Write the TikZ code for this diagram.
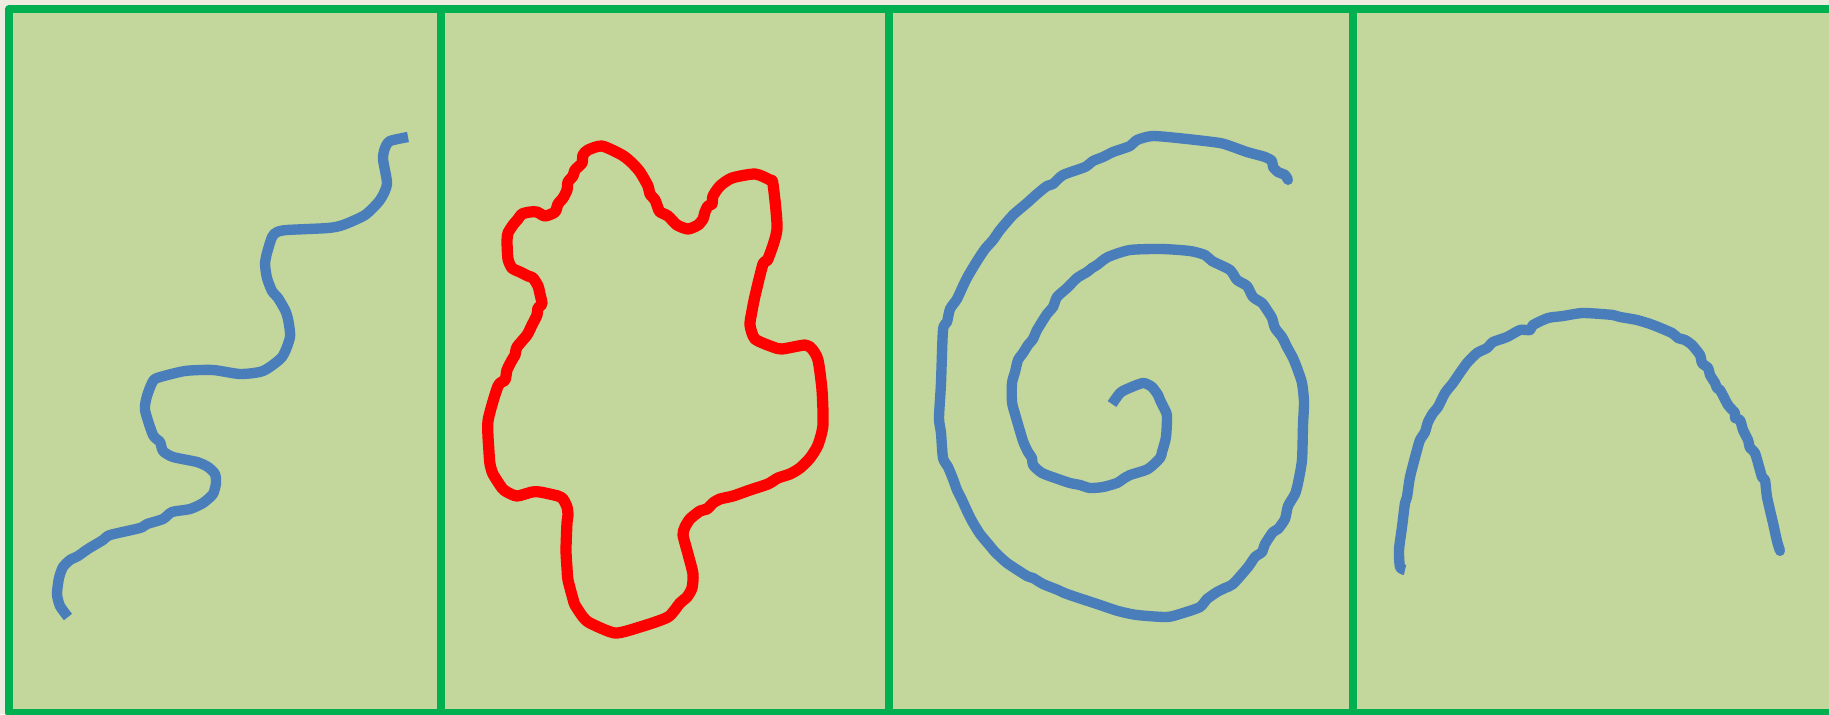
\documentclass[tikz,border=0pt]{standalone}
\usepackage{tikz}
\definecolor{paper}{HTML}{EEECE1}
\definecolor{olive_sk}{HTML}{C3D69B}
\definecolor{frame_green}{HTML}{00B050}
\definecolor{ink_blue}{HTML}{4A7EBB}
\definecolor{ink_red}{HTML}{FF0000}

\begin{document}
\begin{tikzpicture}[x=0.02cm,y=-0.02cm,line join=round]

    \useasboundingbox (0,0) rectangle (1829,714);
    \clip (0,0) rectangle (1829,714);
    \fill[paper] (0,0) rectangle (1829,714);

    \draw[line width=4.5pt,frame_green,fill=olive_sk] (9,9) rectangle (1840,713);
    \draw[line width=4.5pt,frame_green] (441,9) -- (441,713);
    \draw[line width=4.5pt,frame_green] (889,9) -- (889,713);
    \draw[line width=4.5pt,frame_green] (1353,9) -- (1353,713);

    \draw[line width=5.9pt,ink_blue] plot[smooth,tension=0.4] coordinates {
        (68,617) (60,606) (57,594) (59,578) (63,567) (70,560) (78,556)
        (88,549) (103,540) (110,535) (140,528) (147,524) (163,519)
        (172,512) (190,509) (203,503) (213,494) (216,483) (215,474)
        (208,467) (197,462) (173,457) (163,451) (160,442) (153,435)
        (145,410) (147,396) (152,383) (157,378) (185,371) (213,370)
        (240,374) (263,371) (282,357) (290,337) (288,319) (285,310)
        (278,298) (272,291) (267,278) (265,264) (267,253) (272,237)
        (277,232) (287,230) (328,228) (343,225) (365,215) (380,200)
        (387,184) (383,159) (385,148) (390,141) (408,137)};

    \draw[line width=6.4pt,ink_red] plot[smooth cycle,tension=0.4] coordinates {
        (602,146) (622,155) (632,163) (640,172) (648,186) (650,194)
        (655,200) (658,208) (660,212) (668,216) (677,225) (688,229)
        (698,225) (703,219) (705,212) (708,206) (712,204) (713,196)
        (720,186) (732,178) (755,174) (770,180) (773,184) (777,229)
        (768,259) (763,264) (755,296) (752,311) (750,325) (755,339)
        (773,347) (782,349) (805,345) (812,349) (818,360) (822,390)
        (823,425) (818,445) (810,458) (800,468) (790,474) (778,478)
        (768,484) (750,490) (733,496) (720,499) (713,503) (707,509)
        (700,511) (690,519) (685,527) (683,535) (688,554) (693,574)
        (692,588) (687,597) (680,603) (668,617) (640,627) (615,633)
        (590,623) (583,617) (575,605) (573,599) (568,580) (567,568)
        (566,550) (567,523) (568,515) (567,507) (563,499) (558,496)
        (540,492) (532,492) (517,496) (507,492) (502,488) (493,474)
        (490,464) (489,452) (488,421) (498,386) (505,380) (507,370)
        (512,360) (515,355) (517,347) (527,335) (532,325) (537,315)
        (538,308) (542,304) (540,294) (538,286) (533,278) (528,276)
        (520,272) (512,268) (508,259) (507,241) (508,233) (513,225)
        (518,219) (522,214) (530,212) (537,212) (545,216) (555,212)
        (558,204) (563,198) (567,190) (568,182) (573,176) (575,170)
        (582,163) (583,155) (588,150)};

    \draw[line width=5.9pt,ink_blue] plot[smooth,tension=0.4] coordinates {
        (1112,404) (1120,393) (1127,389) (1143,383) (1152,387)
        (1158,395) (1160,400) (1165,410) (1167,416) (1166,437)
        (1162,452) (1160,458) (1148,469) (1130,475) (1123,479)
        (1117,483) (1103,487) (1090,488) (1080,485) (1070,483)
        (1058,479) (1042,473) (1033,465) (1032,458) (1028,452)
        (1023,441) (1015,414) (1012,402) (1012,383) (1015,372)
        (1018,360) (1023,353) (1028,345) (1033,339) (1037,330)
        (1047,314) (1053,307) (1057,297) (1067,288) (1077,278)
        (1087,272) (1092,268) (1097,265) (1108,257) (1130,250)
        (1162,249) (1190,251) (1205,255) (1212,261) (1230,270)
        (1237,280) (1247,286) (1253,297) (1262,303) (1267,310)
        (1272,318) (1275,328) (1282,337) (1287,347) (1293,358)
        (1297,368) (1302,383) (1304,402) (1303,425) (1302,460)
        (1298,483) (1295,494) (1288,506) (1285,519) (1278,529)
        (1273,532) (1265,544) (1262,552) (1255,557) (1248,567)
        (1233,584) (1225,588) (1217,592) (1207,599) (1200,607)
        (1183,613) (1167,617) (1137,615) (1118,611) (1100,605)
        (1067,594) (1058,590) (1043,584) (1033,578) (1027,576)
        (1007,563) (995,552) (990,546) (980,534) (972,521)
        (967,511) (962,500) (957,490) (953,479) (948,467)
        (943,458) (941,433) (939,418) (941,383) (943,330)
        (947,322) (950,309) (957,299) (963,286) (968,276)
        (977,261) (985,249) (993,240) (1000,230) (1013,215)
        (1027,203) (1037,194) (1047,186) (1053,184) (1063,175)
        (1085,167) (1093,161) (1103,157) (1113,152) (1130,146)
        (1137,140) (1153,136) (1187,139) (1220,143) (1233,147)
        (1247,152) (1265,157) (1272,161) (1273,167) (1278,172)
        (1285,175) (1288,180)};
    \fill[ink_blue] (1288,180) circle (5);

    \draw[line width=5.9pt,ink_blue] plot[smooth,tension=0.4] coordinates {
        (1405,570) (1400,567) (1399,550) (1402,527) (1405,503)
        (1407,497) (1410,477) (1417,450) (1420,440) (1425,432)
        (1428,422) (1433,413) (1438,407) (1445,393) (1453,383)
        (1457,377) (1467,363) (1477,353) (1487,348) (1493,342)
        (1507,337) (1520,330) (1530,330) (1533,325) (1548,318)
        (1563,316) (1583,313) (1613,315) (1620,317) (1637,320)
        (1653,325) (1672,333) (1678,338) (1685,340) (1692,345)
        (1700,355) (1702,363) (1708,368) (1710,375) (1715,383)
        (1717,388) (1720,390) (1728,405) (1735,413) (1735,418)
        (1740,420) (1743,430) (1748,440) (1750,448) (1755,453)
        (1762,477) (1765,480) (1767,497) (1773,523) (1777,541)
        (1780,551)};
    \fill[ink_blue] (1780,551) circle (5);

\end{tikzpicture}
\end{document}
